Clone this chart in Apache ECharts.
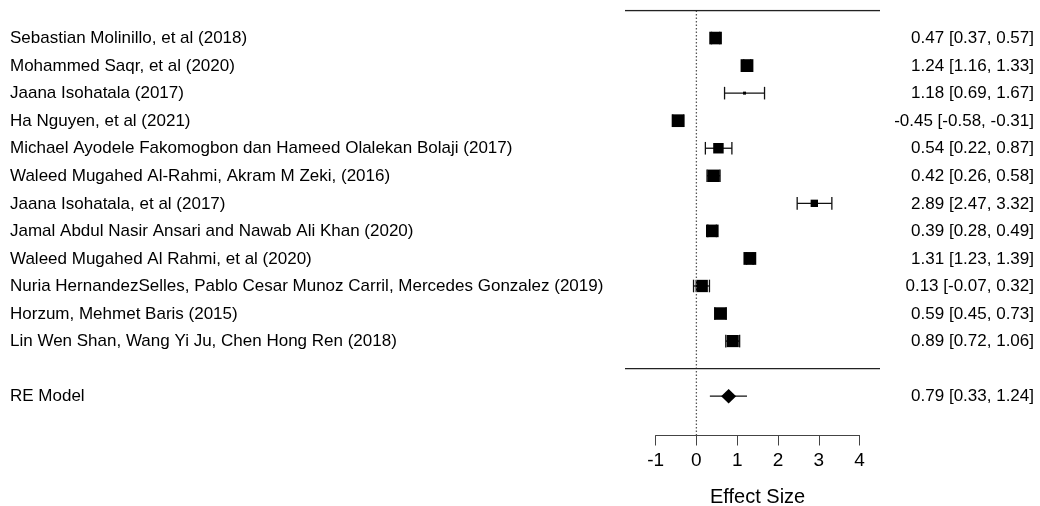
<!DOCTYPE html>
<html><head><meta charset="utf-8">
<script src="https://cdn.jsdelivr.net/npm/echarts@6/dist/echarts.min.js"></script>
<style>html,body{margin:0;padding:0;background:#fff}#c{width:1040px;height:506px}</style>
</head><body><div id="c"></div>
<script>
// ---- data ----
const studies = [
  'Sebastian Molinillo, et al (2018)',
  'Mohammed Saqr, et al (2020)',
  'Jaana Isohatala (2017)',
  'Ha Nguyen, et al (2021)',
  'Michael Ayodele Fakomogbon dan Hameed Olalekan Bolaji (2017)',
  'Waleed Mugahed Al-Rahmi, Akram M Zeki, (2016)',
  'Jaana Isohatala, et al (2017)',
  'Jamal Abdul Nasir Ansari and Nawab Ali Khan (2020)',
  'Waleed Mugahed Al Rahmi, et al (2020)',
  'Nuria HernandezSelles, Pablo Cesar Munoz Carril, Mercedes Gonzalez (2019)',
  'Horzum, Mehmet Baris (2015)',
  'Lin Wen Shan, Wang Yi Ju, Chen Hong Ren (2018)'
];
const estimates = [0.47, 1.24, 1.18, -0.45, 0.54, 0.42, 2.89, 0.39, 1.31, 0.13, 0.59, 0.89];
const lowerCI   = [0.37, 1.16, 0.69, -0.58, 0.22, 0.26, 2.47, 0.28, 1.23, -0.07, 0.45, 0.72];
const upperCI   = [0.57, 1.33, 1.67, -0.31, 0.87, 0.58, 3.32, 0.49, 1.39, 0.32, 0.73, 1.06];
const weights   = [8.49, 8.51, 7.50, 8.50, 8.27, 8.47, 7.95, 8.49, 8.51, 8.46, 8.48, 8.44];
const pooledLabel = 'RE Model';
const pooledEstimate = [0.79];
const pooledLower = [0.33];
const pooledUpper = [1.24];
const tickLabels = [-1, 0, 1, 2, 3, 4];
const axisTitle = 'Effect Size';

// ---- layout / style ----
const FONT = 'Liberation Sans, Arial, sans-serif';
const XLIM = [-1.75, 4.5];
const k = studies.length;
const YLIM = [-2.5, k + 1];
const wMin = Math.min(...weights), wMax = Math.max(...weights);
const boxSize = w => 3 + 9.8 * (w - wMin) / (wMax - wMin);

const studyData = studies.map((s, i) => [k - i, estimates[i], lowerCI[i], upperCI[i], boxSize(weights[i]), i]);
const pooledData = [[-1, pooledEstimate[0], pooledLower[0], pooledUpper[0]]];

function fmt(v){ return v.toFixed(2); }
function labelsFor(name, est, lo, hi, y){
  return [
    {type:'text', x:10, y:y + 0.5, style:{text:name, font:'17px ' + FONT, fill:'#000', align:'left', verticalAlign:'middle'}},
    {type:'text', x:1034, y:y + 0.5, style:{text:fmt(est)+' ['+fmt(lo)+', '+fmt(hi)+']', font:'17px ' + FONT, fill:'#000', align:'right', verticalAlign:'middle'}}
  ];
}

function renderStudy(params, api){
  const row = api.value(0), est = api.value(1), lo = api.value(2), hi = api.value(3), sz = api.value(4), idx = api.value(5);
  const pc = api.coord([est, row]), pl = api.coord([lo, row]), ph = api.coord([hi, row]);
  const y = pc[1], cap = 6.3;
  const ls = {stroke:'#111', lineWidth:1.3};
  return {type:'group', children:[
    {type:'line', shape:{x1:pl[0], y1:y, x2:ph[0], y2:y}, style:ls},
    {type:'line', shape:{x1:pl[0], y1:y-cap, x2:pl[0], y2:y+cap}, style:ls},
    {type:'line', shape:{x1:ph[0], y1:y-cap, x2:ph[0], y2:y+cap}, style:ls},
    {type:'rect', shape:{x:pc[0]-sz/2, y:y-sz/2, width:sz, height:sz}, style:{fill:'#000'}}
  ].concat(labelsFor(studies[idx], est, lo, hi, y))};
}

function renderPooled(params, api){
  const row = api.value(0), est = api.value(1), lo = api.value(2), hi = api.value(3);
  const pc = api.coord([est, row]), pl = api.coord([lo, row]), ph = api.coord([hi, row]);
  const y = pc[1], hw = 7.5, hh = 7.2;
  return {type:'group', children:[
    {type:'line', shape:{x1:pl[0], y1:y, x2:ph[0], y2:y}, style:{stroke:'#111', lineWidth:1.3}},
    {type:'polygon', shape:{points:[[pc[0]-hw, y],[pc[0], y-hh],[pc[0]+hw, y],[pc[0], y+hh]]}, style:{fill:'#000'}}
  ].concat(labelsFor(pooledLabel, est, lo, hi, y))};
}

const chart = echarts.init(document.getElementById('c'), null, {renderer:'canvas'});
chart.setOption({
  animation:false,
  backgroundColor:'#fff',
  grid:[
    {left:625, right:160, top:10.5, bottom:68.5, outerBoundsMode:'none'},
    {left:655.6, right:180.4, top:400, bottom:70.5, outerBoundsMode:'none'}
  ],
  xAxis:[
    {gridIndex:0, type:'value', min:XLIM[0], max:XLIM[1], show:false},
    {gridIndex:1, type:'value', min:tickLabels[0], max:tickLabels[tickLabels.length-1], interval:1,
     position:'bottom',
     axisLine:{show:true, lineStyle:{color:'#444', width:1}},
     axisTick:{show:true, length:10, lineStyle:{color:'#444', width:1}},
     splitLine:{show:false},
     axisLabel:{show:true, margin:16, fontSize:19, fontFamily:FONT, color:'#000',
                formatter: v => tickLabels.includes(v) ? String(v) : ''},
     name:axisTitle, nameLocation:'middle', nameGap:52,
     nameTextStyle:{fontSize:20, fontFamily:FONT, color:'#000'}}
  ],
  yAxis:[
    {gridIndex:0, type:'value', min:YLIM[0], max:YLIM[1], show:false},
    {gridIndex:1, type:'value', min:0, max:1, show:false}
  ],
  series:[
    {type:'line', xAxisIndex:0, yAxisIndex:0, symbol:'none', silent:true,
     data:[[0, YLIM[1]], [0, YLIM[0]]], lineStyle:{color:'#555', width:1.3, type:[1.5, 2]}},
    {type:'line', xAxisIndex:0, yAxisIndex:0, symbol:'none', silent:true,
     data:[[XLIM[0], YLIM[1]], [XLIM[1], YLIM[1]]], lineStyle:{color:'#222', width:1.3}},
    {type:'line', xAxisIndex:0, yAxisIndex:0, symbol:'none', silent:true,
     data:[[XLIM[0], 0], [XLIM[1], 0]], lineStyle:{color:'#222', width:1.3}},
    {type:'custom', xAxisIndex:0, yAxisIndex:0, clip:false, renderItem:renderStudy, data:studyData},
    {type:'custom', xAxisIndex:0, yAxisIndex:0, clip:false, renderItem:renderPooled, data:pooledData}
  ]
});
</script></body></html>
